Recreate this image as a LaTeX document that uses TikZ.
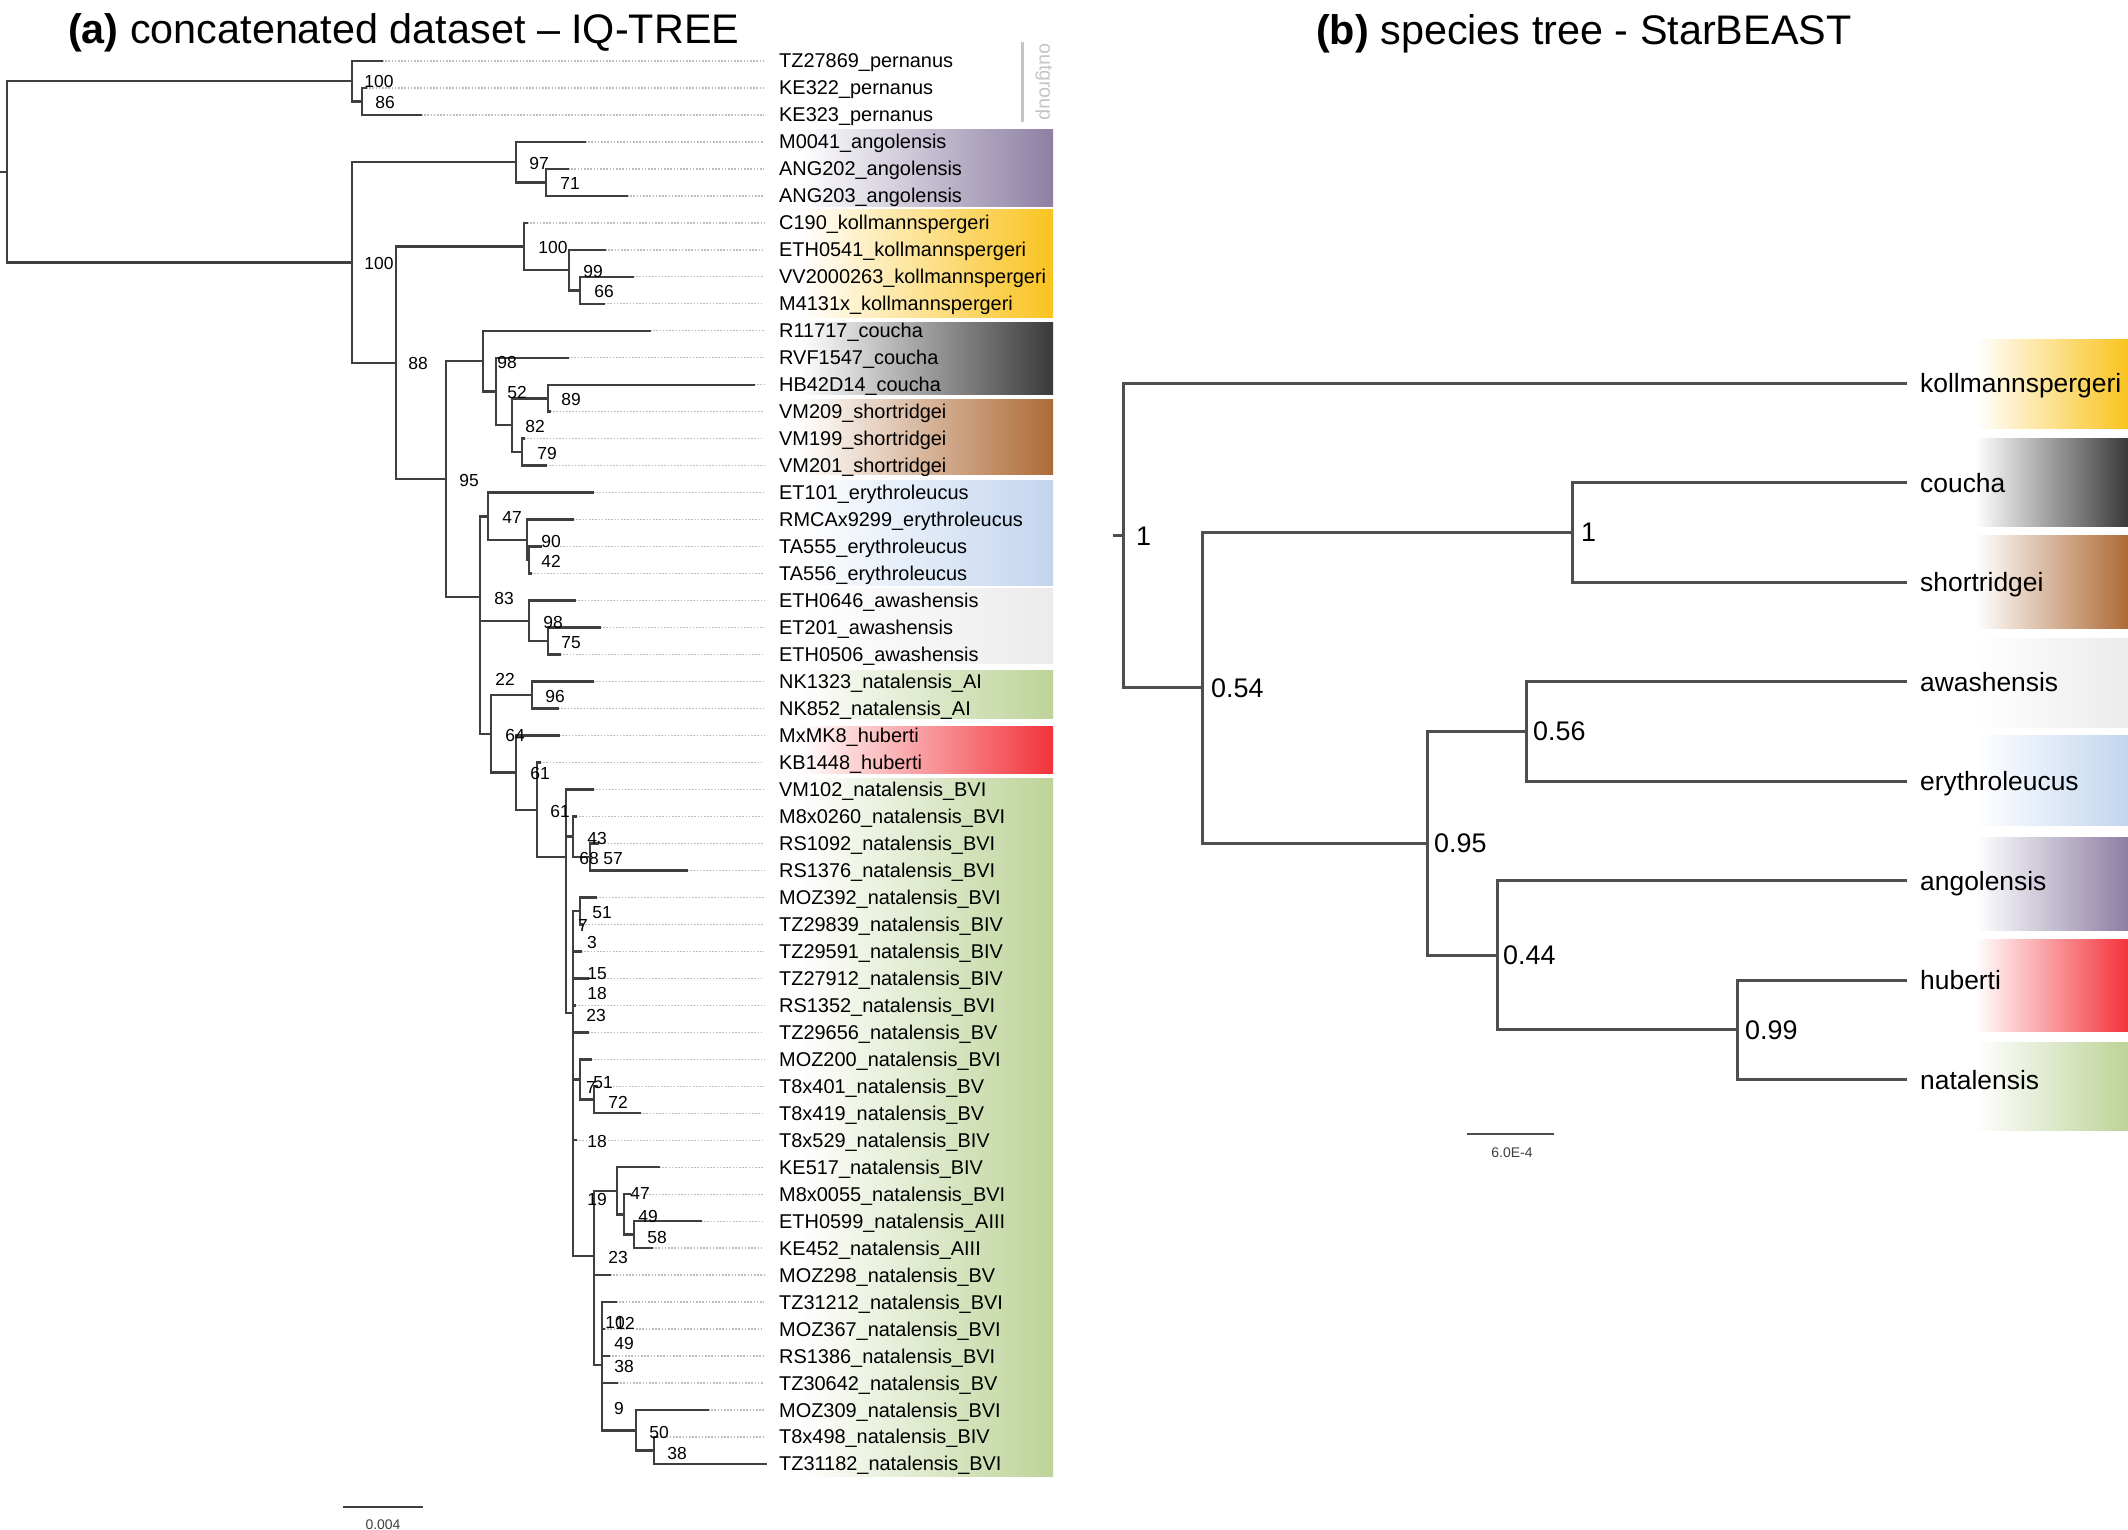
\documentclass[tikz,border=0pt]{standalone}
\usepackage{fontspec}
\setmainfont{Liberation Sans}
\definecolor{brc}{HTML}{3F3F3F}
\definecolor{rbrc}{HTML}{4E4E4E}
\definecolor{dotc}{HTML}{BDBDBD}
\definecolor{ogc}{HTML}{C4C4C4}
\definecolor{cang}{HTML}{8D7FA4}
\definecolor{ckol}{HTML}{F9C31F}
\definecolor{ccou}{HTML}{3A3A3A}
\definecolor{csho}{HTML}{AE6A36}
\definecolor{cery}{HTML}{C2D5EF}
\definecolor{cawa}{HTML}{EBEBEB}
\definecolor{cnat}{HTML}{BDD398}
\definecolor{chub}{HTML}{F2333A}
\begin{document}
\begin{tikzpicture}[x=1bp,y=-1bp,
  br/.style={line width=2.5bp, draw=brc, line cap=rect},
  rbr/.style={line width=3bp, draw=rbrc, line cap=rect},
  dt/.style={line width=1.3bp, draw=dotc, dash pattern=on 1.6bp off 1.6bp},
  tip/.style={anchor=base west, inner sep=0pt, font=\fontsize{20}{24}\selectfont},
  sup/.style={anchor=base, inner sep=0pt, font=\fontsize{17.5}{20}\selectfont},
  rtip/.style={anchor=base west, inner sep=0pt, font=\fontsize{26.5}{30}\selectfont},
  rsup/.style={anchor=base west, inner sep=0pt, font=\fontsize{27}{30}\selectfont},
  ttl/.style={anchor=base west, inner sep=0pt, font=\fontsize{41.5}{46}\selectfont},
  sbl/.style={anchor=base, inner sep=0pt, font=\fontsize{14}{16}\selectfont, text=brc}]
\useasboundingbox (0,0) rectangle (2128,1530);
\fill[white] (0,0) rectangle (2128,1530);

% ---------- colour bars, panel a ----------
\foreach \ya/\yb/\c in {130/206/cang, 209/317/ckol, 322/394/ccou, 399/474/csho, 480/585/cery, 588/663/cawa, 670/718/cnat, 726/773/chub, 778/1476/cnat}
  \shade[left color=white, right color=\c] (800,\ya) rectangle (1053,\yb);
\draw[line width=3bp, draw=ogc] (1022,42) -- (1022,122);
\node[rotate=-90, inner sep=0pt, text=ogc, font=\fontsize{19.5}{22}\selectfont] (og) at (1044,82) {outgroup};

% ---------- colour bars, panel b ----------
\foreach \ya/\yb/\c in {339/428/ckol, 438/526/ccou, 535/628/csho, 638/727/cawa, 735/825/cery, 837/930/cang, 939/1031/chub, 1042/1130/cnat}
  \shade[left color=white, right color=\c] (1975,\ya) rectangle (2128,\yb);

% ---------- titles ----------
\node[ttl] (ta) at (68,44) {\textbf{(a)} concatenated dataset – IQ-TREE};
\node[ttl] (tb) at (1316,45) {\textbf{(b)} species tree - StarBEAST};

% ---------- tips, panel a ----------
\foreach \i/\nx/\ex/\lab in {
1/352/382/TZ27869\_pernanus,
2/362/366/KE322\_pernanus,
3/362/421/KE323\_pernanus,
4/516/585/M0041\_angolensis,
5/546/568/ANG202\_angolensis,
6/546/627/ANG203\_angolensis,
7/524/527/C190\_kollmannspergeri,
8/569/605/ETH0541\_kollmannspergeri,
9/580/633/VV2000263\_kollmannspergeri,
10/580/604/M4131x\_kollmannspergeri,
11/483/650/R11717\_coucha,
12/496/568/RVF1547\_coucha,
13/548/754/HB42D14\_coucha,
14/548/550/VM209\_shortridgei,
15/522/524/VM199\_shortridgei,
16/522/546/VM201\_shortridgei,
17/488/593/ET101\_erythroleucus,
18/527/573/RMCAx9299\_erythroleucus,
19/529/541/TA555\_erythroleucus,
20/529/531/TA556\_erythroleucus,
21/529/575/ETH0646\_awashensis,
22/548/600/ET201\_awashensis,
23/548/560/ETH0506\_awashensis,
24/532/593/NK1323\_natalensis\_AI,
25/532/558/NK852\_natalensis\_AI,
26/516/559/MxMK8\_huberti,
27/537/540/KB1448\_huberti,
28/566/593/VM102\_natalensis\_BVI,
29/573/576/M8x0260\_natalensis\_BVI,
30/590/598/RS1092\_natalensis\_BVI,
31/590/687/RS1376\_natalensis\_BVI,
32/580/596/MOZ392\_natalensis\_BVI,
33/580/582/TZ29839\_natalensis\_BIV,
34/573/581/TZ29591\_natalensis\_BIV,
35/573/588/TZ27912\_natalensis\_BIV,
36/573/575/RS1352\_natalensis\_BVI,
37/573/588/TZ29656\_natalensis\_BV,
38/580/591/MOZ200\_natalensis\_BVI,
39/594/597/T8x401\_natalensis\_BV,
40/594/640/T8x419\_natalensis\_BV,
41/573/576/T8x529\_natalensis\_BIV,
42/617/659/KE517\_natalensis\_BIV,
43/624/630/M8x0055\_natalensis\_BVI,
44/634/701/ETH0599\_natalensis\_AIII,
45/634/652/KE452\_natalensis\_AIII,
46/594/610/MOZ298\_natalensis\_BV,
47/602/616/TZ31212\_natalensis\_BVI,
48/602/604/MOZ367\_natalensis\_BVI,
49/602/609/RS1386\_natalensis\_BVI,
50/602/617/TZ30642\_natalensis\_BV,
51/636/708/MOZ309\_natalensis\_BVI,
52/654/657/T8x498\_natalensis\_BIV,
53/654/766/TZ31182\_natalensis\_BVI}{
  \pgfmathsetmacro\yy{61+(\i-1)*26.98}
  \draw[dt] (\ex,\yy) -- (764,\yy);
  \draw[br] (\nx,\yy) -- (\ex,\yy);
  \node[tip] (t\i) at (779,{\yy+7}) {\lab};
}

% ---------- internal branches, panel a ----------
\foreach \xa/\xb/\y in {0/7/171.9, 7/352/81.25, 352/362/101.5, 7/352/262.5, 352/516/162.2, 516/546/182.4,
  352/396/362.8, 396/524/246.5, 524/569/270.1, 569/580/290.3, 396/446/479, 446/483/361.2,
  483/496/391.5, 496/512/425.2, 512/548/398.3, 512/522/452.2, 446/480/596.9, 480/488/516.3,
  488/527/539.9, 527/529/560.1, 480/529/620.9, 529/548/641.1, 480/491/733.9, 491/532/695,
  491/516/772.7, 516/537/809.9, 537/566/857.2, 566/573/836.7, 573/590/856.9, 566/573/1013,
  573/580/910.9, 573/580/1079.5, 580/594/1099.7, 573/594/1256, 594/617/1190.8, 617/624/1214.4,
  624/634/1234.6, 594/602/1365, 602/636/1430.25, 636/654/1450.5}
  \draw[br] (\xa,\y) -- (\xb,\y);
\foreach \x/\ya/\yb in {7/81.25/262.5, 352/61/101.5, 362/88/115, 352/162.2/362.8, 516/141.9/182.4,
  546/168.9/195.9, 396/246.5/479, 524/222.9/270.1, 569/249.9/290.3, 580/276.8/303.8,
  446/361.2/596.9, 483/330.8/391.5, 496/357.8/425.2, 512/398.3/452.2, 548/384.8/411.7,
  522/438.7/465.7, 480/516.3/733.9, 488/492.7/539.9, 527/519.7/560.1, 529/546.6/573.6,
  529/600.6/641.1, 548/627.6/654.6, 491/695/772.7, 532/681.5/708.5, 516/735.5/809.9,
  537/762.5/857.2, 566/789.5/1013, 573/816.4/856.9, 590/843.4/870.4, 573/910.9/1256,
  580/897.4/924.4, 580/1059.3/1099.7, 594/1086.2/1113.2, 594/1190.8/1365, 617/1167.2/1214.4,
  624/1194.2/1234.6, 634/1221.1/1248.1, 602/1302.1/1430.25, 636/1410/1450.5, 654/1437/1464}
  \draw[br] (\x,\ya) -- (\x,\yb);

% ---------- support values, panel a ----------
\foreach \x/\y/\t [count=\k] in {379/81/100, 385/102/86, 539/163/97, 570/183/71, 379/263/100,
  553/247/100, 593/271/99, 604/291/66, 418/363/88, 507/362/98, 517/392/52, 571/399/89,
  535/426/82, 547/453/79, 469/480/95, 512/517/47, 551/541/90, 551/561/42, 504/598/83,
  553/622/98, 571/642/75, 505/679/22, 555/696/96, 515/735/64, 540/773/61, 560/811/61,
  597/838/43, 589/858/68, 613/858/57, 602/912/51, 583/925/7, 592/942/3, 597/973/15,
  597/993/18, 596/1015/23, 591/1087/7, 603/1082/51, 618/1102/72, 597/1141/18, 597/1199/19,
  640/1193/47, 648/1216/49, 657/1237/58, 618/1257/23, 615/1322/10, 625/1323/12, 624/1343/49,
  624/1366/38, 619/1408/9, 659/1432/50, 677/1453/38}
  \node[sup] (s\k) at (\x,{\y+6.3}) {\t};

% scale bar a
\coordinate (sa1) at (343,1507);
\coordinate (sa2) at (423,1507);
\draw[br, line cap=butt] (sa1) -- (sa2);
\node[sbl] (sal) at (383,1529) {0.004};

% ---------- panel b: species tree ----------
\foreach \k/\lab in {1/kollmannspergeri, 2/coucha, 3/shortridgei, 4/awashensis, 5/erythroleucus, 6/angolensis, 7/huberti, 8/natalensis}{
  \pgfmathsetmacro\yy{383+(\k-1)*99.5}
  \coordinate (re\k) at (1905,\yy);
  \node[rtip] (r\k) at (1920,{\yy+9.5}) {\lab};
}
\coordinate (nroot) at (1123,535.4);
\coordinate (n054) at (1202,687.7);
\coordinate (n1b) at (1572,532.25);
\coordinate (n095) at (1427,843.2);
\coordinate (n056) at (1526,731.25);
\coordinate (n044) at (1497,955.1);
\coordinate (n099) at (1737,1029.75);

\draw[rbr] (1114,535.4) -- (nroot);
\draw[rbr] (re1) -- (re1 -| nroot) -- (n054 -| nroot) -- (n054);
\draw[rbr] (n1b -| n054) -- (n095 -| n054);
\draw[rbr] (n1b -| n054) -- (n1b);
\draw[rbr] (re2) -- (re2 -| n1b) -- (re3 -| n1b) -- (re3);
\draw[rbr] (n095 -| n054) -- (n095);
\draw[rbr] (n056 -| n095) -- (n044 -| n095);
\draw[rbr] (n056 -| n095) -- (n056);
\draw[rbr] (re4) -- (re4 -| n056) -- (re5 -| n056) -- (re5);
\draw[rbr] (n044 -| n095) -- (n044);
\draw[rbr] (re6) -- (re6 -| n044) -- (n099 -| n044) -- (n099);
\draw[rbr] (re7) -- (re7 -| n099) -- (re8 -| n099) -- (re8);

\node[rsup] (l1) at (1136,{535.4+9.7}) {1};
\node[rsup] (l054) at (1211,{687.7+9.7}) {0.54};
\node[rsup] (l1b) at (1581,{532.25+9.7}) {1};
\node[rsup] (l056) at (1533,{731.25+9.7}) {0.56};
\node[rsup] (l095) at (1434,{843.2+9.7}) {0.95};
\node[rsup] (l044) at (1503,{955.1+9.7}) {0.44};
\node[rsup] (l099) at (1745,{1029.75+9.7}) {0.99};

% scale bar b
\coordinate (sb1) at (1467,1134);
\coordinate (sb2) at (1554,1134);
\draw[rbr, line width=2.4bp, line cap=butt] (sb1) -- (sb2);
\node[sbl] (sbl) at (1512,1157) {6.0E-4};
\end{tikzpicture}
\end{document}
